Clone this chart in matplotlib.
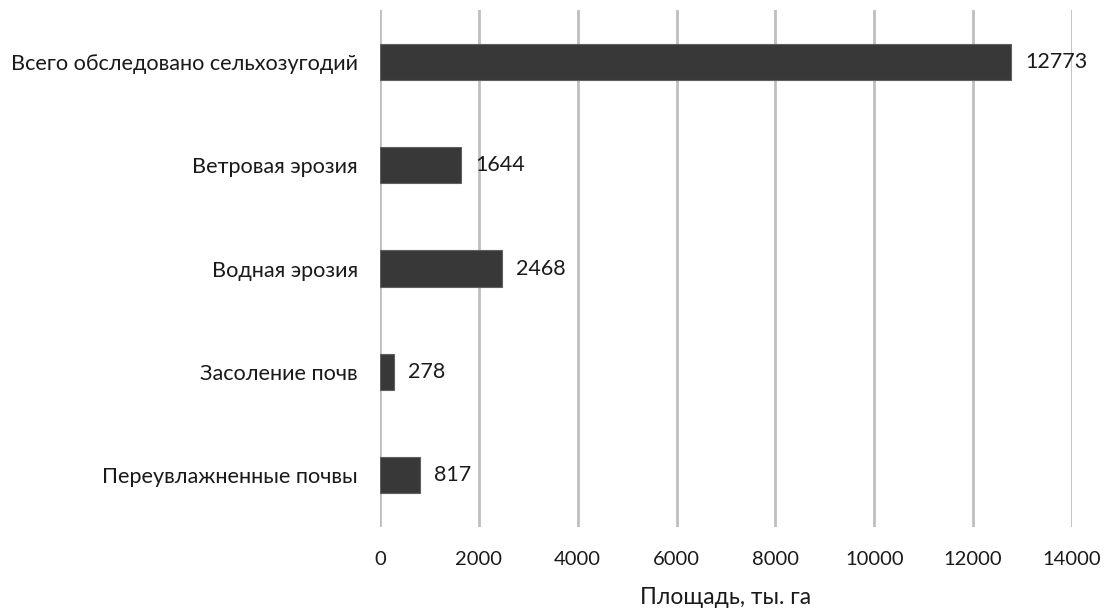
import matplotlib
matplotlib.use("Agg")
import matplotlib.pyplot as plt

categories = [
    "Всего обследовано сельхозугодий",
    "Ветровая эрозия",
    "Водная эрозия",
    "Засоление почв",
    "Переувлажненные почвы",
]
values = [12773, 1644, 2468, 278, 817]
xticks = [0, 2000, 4000, 6000, 8000, 10000, 12000, 14000]
xlabel = "Площадь, ты. га"

plt.rcParams["font.family"] = ["Lato", "DejaVu Sans"]

fig = plt.figure(figsize=(11.04, 6.09), dpi=100)
ax = fig.add_axes([380 / 1104, 1 - 527 / 609, (1072 - 380) / 1104, (527 - 10) / 609])

pos = list(range(len(categories)))
ax.barh(pos, values, height=0.35, color="#383838", edgecolor="#606060", linewidth=0.8, zorder=3)
for p, v in zip(pos, values):
    ax.annotate(f"{v}", (v, p), xytext=(10, 0), textcoords="offset points",
                va="center", ha="left", fontsize=15.5, color="#1a1a1a")

ax.set_ylim(len(categories) - 0.5, -0.5)
ax.set_xlim(0, 14000)
ax.set_xticks(xticks)
ax.set_yticks(pos)
ax.set_yticklabels(categories, fontsize=15.6, color="#1a1a1a")
ax.tick_params(axis="x", labelsize=14.5, colors="#1a1a1a", length=0, pad=17)
ax.tick_params(axis="y", length=0, pad=16)
ax.xaxis.grid(True, color="#bfbfbf", linewidth=2, zorder=0)
for s in ax.spines.values():
    s.set_visible(False)
ax.set_xlabel(xlabel, fontsize=16.5, color="#1a1a1a", labelpad=14)

fig.savefig("out.png", dpi=100)
